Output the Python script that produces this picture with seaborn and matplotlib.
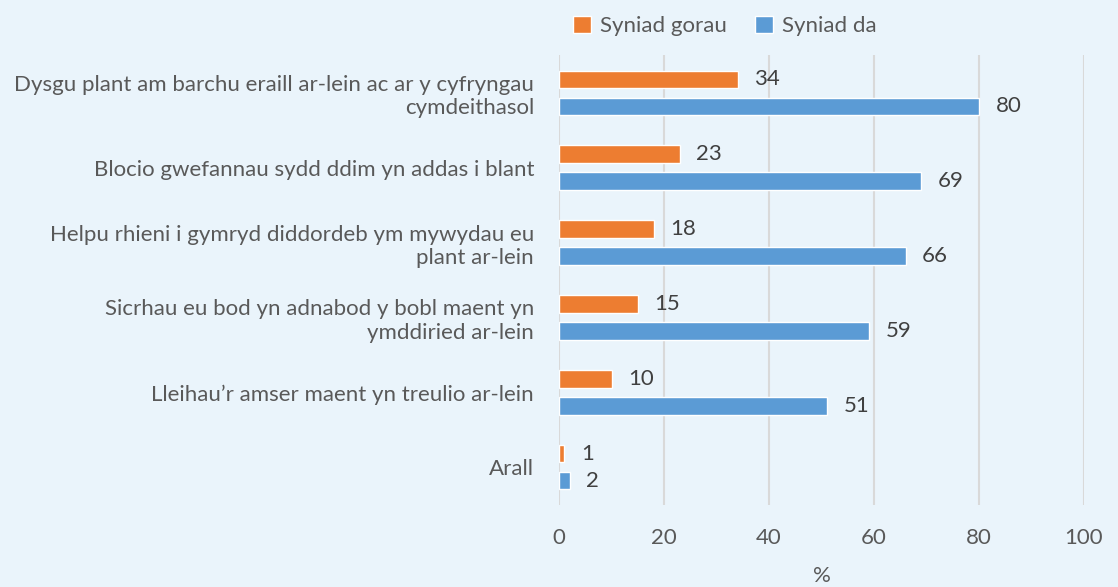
import matplotlib
matplotlib.use("Agg")
import matplotlib.pyplot as plt
import seaborn as sns
import pandas as pd

categories = [
    "Dysgu plant am barchu eraill ar-lein ac ar y cyfryngau\ncymdeithasol",
    "Blocio gwefannau sydd ddim yn addas i blant",
    "Helpu rhieni i gymryd diddordeb ym mywydau eu\nplant ar-lein",
    "Sicrhau eu bod yn adnabod y bobl maent yn\nymddiried ar-lein",
    "Lleihau’r amser maent yn treulio ar-lein",
    "Arall",
]
series_names = ["Syniad gorau", "Syniad da"]
syniad_gorau = [34, 23, 18, 15, 10, 1]
syniad_da = [80, 69, 66, 59, 51, 2]
x_ticks = [0, 20, 40, 60, 80, 100]

colors = {"Syniad gorau": "#ED7D31", "Syniad da": "#5B9BD5"}
bg = "#EAF4FB"
text_col = "#595959"
fs = 16

df = pd.DataFrame({
    "cat": categories * 2,
    "series": [series_names[0]] * len(categories) + [series_names[1]] * len(categories),
    "value": syniad_gorau + syniad_da,
})

sns.set_theme(style="white")
plt.rcParams["font.family"] = ["Lato", "DejaVu Sans"]

fig = plt.figure(figsize=(11.18, 5.87), dpi=100, facecolor=bg)
ax = fig.add_axes([0.5, 0.14, 0.4696, 0.766])
ax.set_facecolor(bg)

sns.barplot(data=df, y="cat", x="value", hue="series", order=categories,
            hue_order=series_names, palette=colors, orient="h",
            width=0.72, gap=0.36, ax=ax, legend=True, saturation=1)

for container in ax.containers:
    ax.bar_label(container, fmt="%d", padding=12, fontsize=fs, color="#404040")

ax.set_xlim(0, 100)
ax.set_ylim(len(categories) - 0.5, -0.5)
ax.set_xticks(x_ticks)
ax.xaxis.grid(True, color="#D9D9D9", linewidth=1.5)
ax.set_axisbelow(True)
for s in ax.spines.values():
    s.set_visible(False)
ax.tick_params(axis="both", length=0, labelsize=fs, labelcolor=text_col)
ax.tick_params(axis="y", pad=18)
ax.tick_params(axis="x", pad=17)
for lbl in ax.get_yticklabels():
    lbl.set_horizontalalignment("right")
    lbl.set_multialignment("right")
ax.set_ylabel("")
ax.set_xlabel("%", fontsize=fs, color=text_col, labelpad=13)

ax.legend(loc="lower center", bbox_to_anchor=(0.316, 1.0), ncol=2, frameon=False,
          fontsize=fs, labelcolor=text_col, handlelength=0.8, handleheight=0.8,
          handletextpad=0.4, columnspacing=1.3, borderaxespad=0.45)

fig.savefig("out.png", dpi=100, facecolor=bg)
